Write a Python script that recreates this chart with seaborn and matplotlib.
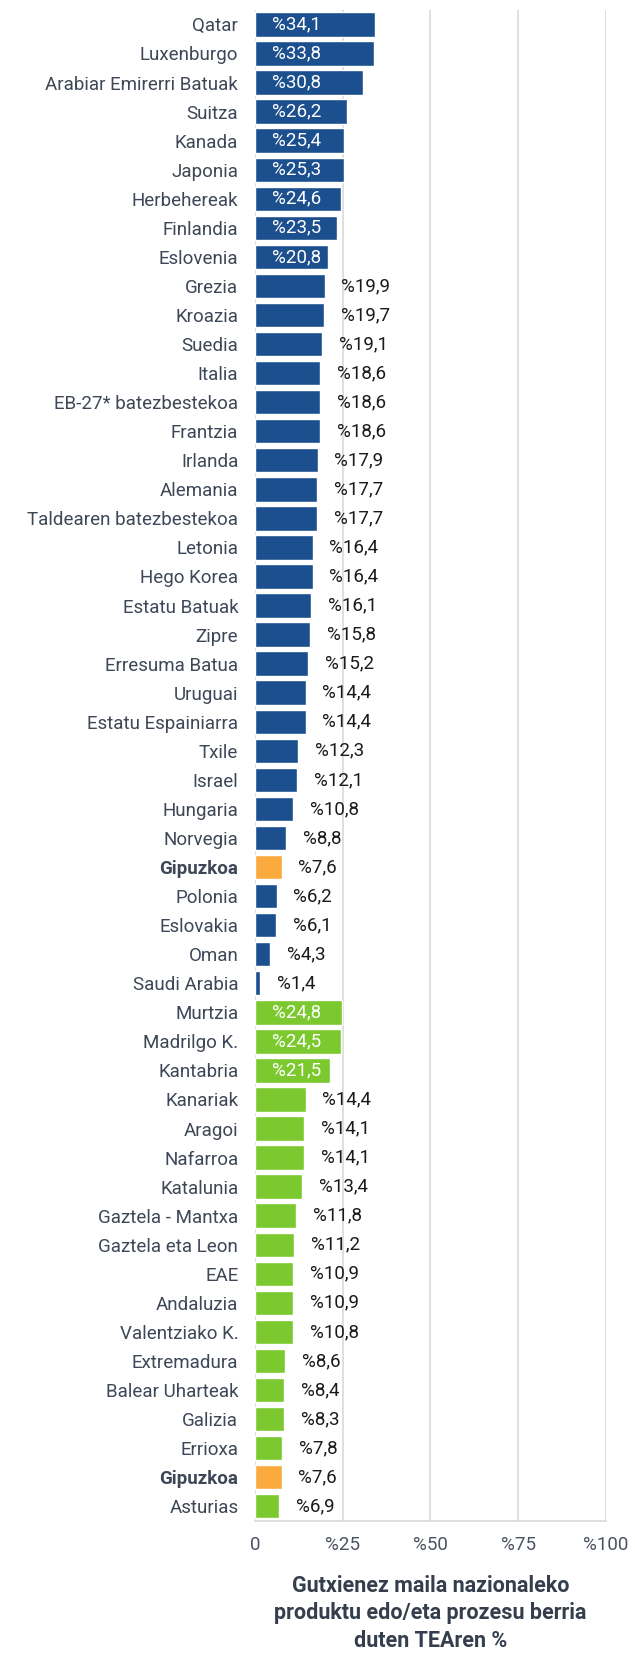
import pandas as pd
import numpy as np
import seaborn as sns
import matplotlib.pyplot as plt

# Datuak (goitik behera)
herrialdeak = ['Qatar', 'Luxenburgo', 'Arabiar Emirerri Batuak', 'Suitza', 'Kanada', 'Japonia',
               'Herbehereak', 'Finlandia', 'Eslovenia', 'Grezia', 'Kroazia', 'Suedia', 'Italia',
               'EB-27* batezbestekoa', 'Frantzia', 'Irlanda', 'Alemania', 'Taldearen batezbestekoa',
               'Letonia', 'Hego Korea', 'Estatu Batuak', 'Zipre', 'Erresuma Batua', 'Uruguai',
               'Estatu Espainiarra', 'Txile', 'Israel', 'Hungaria', 'Norvegia', 'Gipuzkoa',
               'Polonia', 'Eslovakia', 'Oman', 'Saudi Arabia']
herrialde_balioak = [34.1, 33.8, 30.8, 26.2, 25.4, 25.3, 24.6, 23.5, 20.8, 19.9, 19.7, 19.1, 18.6,
                     18.6, 18.6, 17.9, 17.7, 17.7, 16.4, 16.4, 16.1, 15.8, 15.2, 14.4, 14.4, 12.3,
                     12.1, 10.8, 8.8, 7.6, 6.2, 6.1, 4.3, 1.4]

eskualdeak = ['Murtzia', 'Madrilgo K.', 'Kantabria', 'Kanariak', 'Aragoi', 'Nafarroa', 'Katalunia',
              'Gaztela - Mantxa', 'Gaztela eta Leon', 'EAE', 'Andaluzia', 'Valentziako K.',
              'Extremadura', 'Balear Uharteak', 'Galizia', 'Errioxa', 'Gipuzkoa', 'Asturias']
eskualde_balioak = [24.8, 24.5, 21.5, 14.4, 14.1, 14.1, 13.4, 11.8, 11.2, 10.9, 10.9, 10.8,
                    8.6, 8.4, 8.3, 7.8, 7.6, 6.9]

ticks = [0, 25, 50, 75, 100]
tick_etiketak = ['0', '%25', '%50', '%75', '%100']

kolorea = {'herrialdea': '#1c4f8e', 'eskualdea': '#7cc92f', 'gipuzkoa': '#fbaa3e'}
testu_kolorea = '#3d4757'

df = pd.DataFrame({
    'izena': herrialdeak + eskualdeak,
    'balioa': herrialde_balioak + eskualde_balioak,
    'taldea': ['herrialdea'] * len(herrialdeak) + ['eskualdea'] * len(eskualdeak),
})
df.loc[df['izena'] == 'Gipuzkoa', 'taldea'] = 'gipuzkoa'
df['gakoa'] = [str(i) for i in range(len(df))]          # Gipuzkoa bi aldiz dago, gako bakarra behar da

sns.set_theme(style='white')
plt.rcParams['font.family'] = ['Roboto', 'DejaVu Sans']

fig, ax = plt.subplots(figsize=(6.35, 16.53), dpi=100)
fig.subplots_adjust(left=0.4016, right=0.954, top=0.994, bottom=0.080)

sns.barplot(data=df, x='balioa', y='gakoa', hue='taldea', palette=kolorea, dodge=False,
            legend=False, width=0.84, ax=ax, orient='h', saturation=1)

ax.set_xlim(0, 100)
ax.set_ylim(len(df) - 0.5, -0.5)
ax.set_xticks(ticks)
ax.set_xticklabels(tick_etiketak, fontsize=13.5, color='#4a5361')
ax.tick_params(axis='x', length=0, pad=11)
ax.tick_params(axis='y', length=0, pad=12)
ax.set_yticks(range(len(df)))
ax.set_yticklabels(df['izena'], fontsize=13.5, color=testu_kolorea)
for lbl, taldea in zip(ax.get_yticklabels(), df['taldea']):
    if taldea == 'gipuzkoa':
        lbl.set_fontweight('bold')

for x in ticks:
    ax.axvline(x, color='#d9d9d9', lw=1.2, zorder=0)
for s in ['top', 'right', 'left']:
    ax.spines[s].set_visible(False)
ax.spines['bottom'].set_color('#d9d9d9')
ax.spines['bottom'].set_linewidth(1.2)

for i, (b, taldea) in enumerate(zip(df['balioa'], df['taldea'])):
    testua = '%' + f'{b:.1f}'.replace('.', ',')
    if b > 20:
        ax.annotate(testua, (0, i), xytext=(12, 0), textcoords='offset points',
                    va='center', ha='left', color='white', fontsize=13.5)
    else:
        ax.annotate(testua, (b, i), xytext=(12, 0), textcoords='offset points',
                    va='center', ha='left', color='#1a1a1a', fontsize=13.5)

ax.set_ylabel('')
ax.set_xlabel('Gutxienez maila nazionaleko\nproduktu edo/eta prozesu berria\nduten TEAren %',
              fontsize=15.5, fontweight='bold', color='#343e4c', labelpad=15, linespacing=1.32)

plt.savefig('out.png', dpi=100)
